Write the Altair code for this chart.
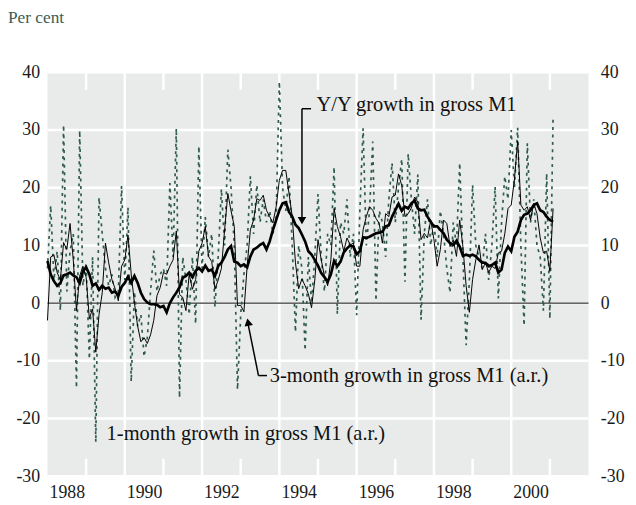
import altair as alt
import pandas as pd

# ---- data (monthly, starting Jan 1988) ----
one_month = [
    6, 16.9, 4, 9, -1.3, 30.9, 2, 9, 12, -14.7, 29.9, 3,
    7, -9.7, 8, -24.1, 18.3, 12, 6, 3, 5, 1, 2, 20.3,
    4, 16.6, -13.6, 2, -4, -2, -9.3, -6, 2, 9.1, 2, 5,
    6, 3, 20.8, 8, 30.3, -16.4, 8, 4, -2, 8, -3.6, 27.2,
    6, 14.9, 8, 12, -0.7, 8, 19.8, 10, 26.6, 20, 10, -15,
    -2, 5, 10, 22, 12, 20.5, 14, 18, 14, 16, 12, 15,
    38.4, 20, 16, 22, 10, -5, 10, 6, -8.2, 8, 0, 8,
    18.9, 8, 2, 12, 10, 23.6, -1.9, 14, 12, 18, 8, 12,
    -2.1, 16, 30.3, 10, 16, 28, 0.4, 16, 14, 8, 18, 24.3,
    14, 20, 25, 3.7, 25.9, 18, 12, 22.3, -2.9, 12, 18, 10,
    14, 8, 16, 12, 6, 1.8, 14, 10, 24.3, 8, -7.3, 4,
    20.5, 10, 8, 6, 12, 4, 10, 20.2, 0.8, 14, 22, 18,
    30, 20, 30.4, 10, -3.9, 27.7, 14, 18, 10, 8, -1.3, 22.5,
    -2.7, 32.3,
]

three_month = [
    -3.0, 8.0, 8.4, 5.3, 4.0, 10.5, 9.3, 13.8, 7.5, -1.3, 4.7, 6.4,
    4.5, -2.7, -1.0, -8.5, -2.0, 1.8, 10.4, 7.0, 4.1, 2.5, 0.4, 6.4,
    7.5, 11.8, 5.0, 0.0, -4.0, -6.7, -6.0, -7.0, -5.5, -3.0, 1.3, 2.7,
    5.3, 5.0, 6.4, 7.5, 12.5, 1.5, 1.0, -1.3, 5.0, 2.4, 4.1, 9.0,
    10.4, 13.3, 8.1, 7.2, 2.4, 4.0, 6.0, 12.7, 19.0, 16.0, 13.3, -0.4,
    -0.4, -1.5, 6.4, 12.7, 14.4, 18.1, 17.8, 18.7, 16.1, 15.0, 13.9, 16.7,
    21.3, 23.0, 23.0, 19.0, 15.0, 7.0, 2.5, 4.2, 3.0, 1.6, -0.8, 4.0,
    11.0, 7.5, 4.7, 3.0, 7.5, 16.4, 13.3, 11.5, 9.0, 11.3, 10.1, 10.4,
    6.4, 6.4, 12.7, 15.0, 16.7, 16.1, 14.7, 13.8, 10.4, 15.5, 15.0, 18.4,
    18.7, 22.4, 20.4, 15.0, 15.5, 16.5, 18.4, 17.5, 11.0, 12.1, 11.3, 14.4,
    11.0, 6.4, 9.3, 14.4, 13.8, 9.8, 11.0, 8.1, 14.4, 9.8, 3.0, -1.6,
    4.1, 7.5, 10.1, 5.8, 7.0, 5.3, 6.4, 6.0, 8.7, 9.0, 12.0, 16.4,
    17.0, 21.5, 28.1, 17.0, 16.1, 16.7, 14.4, 17.3, 15.5, 11.3, 8.7, 9.0,
    5.5, 16.4,
]

year_on_year = [
    7.3, 5.0, 3.8, 3.0, 3.5, 4.8, 5.0, 5.3, 4.8, 4.5, 3.5, 5.5,
    6.2, 5.0, 3.0, 3.4, 2.3, 3.0, 2.5, 2.7, 1.8, 2.0, 1.3, 2.8,
    3.5, 4.6, 3.5, 4.7, 3.5, 1.8, 0.7, 0.1, -0.2, -0.2, -0.3, -0.7,
    -0.5, -1.6, 0.0, 1.0, 1.8, 2.7, 4.4, 4.7, 5.3, 4.5, 5.6, 6.1,
    5.5, 6.5, 5.6, 5.8, 4.7, 6.4, 7.0, 8.0, 9.3, 9.9, 7.2, 7.0,
    6.4, 6.7, 6.2, 8.1, 9.3, 9.6, 10.1, 10.4, 9.3, 10.7, 12.7, 14.4,
    16.1, 17.3, 17.5, 15.8, 15.0, 13.6, 13.0, 11.9, 10.7, 9.0, 8.4, 7.5,
    6.5, 5.2, 4.5, 3.7, 5.0, 7.3, 6.4, 7.2, 8.8, 9.5, 10.0, 9.8,
    8.5, 9.0, 11.4, 11.3, 11.5, 11.8, 12.1, 12.2, 12.4, 13.3, 13.5, 15.0,
    16.1, 17.2, 16.0, 16.7, 16.4, 17.3, 17.8, 16.4, 16.1, 16.2, 15.0, 14.1,
    13.3, 13.3, 12.7, 12.1, 11.0, 10.4, 10.1, 10.8, 9.8, 8.2, 8.4, 8.2,
    8.4, 8.1, 7.5, 7.0, 7.0, 6.4, 6.6, 7.0, 5.3, 5.8, 8.7, 9.8,
    9.0, 11.5, 12.4, 14.4, 15.3, 15.5, 16.1, 17.0, 17.3, 16.1, 15.8, 15.0,
    14.4, 14.1,
]

label_years = [1988, 1990, 1992, 1994, 1996, 1998, 2000]
grid_years = [1990, 1992, 1994, 1996, 1998, 2000]
minor_years = [1989, 1991, 1993, 1995, 1997, 1999, 2001]
y_ticks = [-30, -20, -10, 0, 10, 20, 30, 40]
zero = [0]

labels = ["Y/Y growth in gross M1",
          "3-month growth in gross M1 (a.r.)",
          "1-month growth in gross M1 (a.r.)"]

# ---- tables ----
n = len(year_on_year)
df = pd.DataFrame({
    "t": [1988 + i / 12 for i in range(n)],
    "one": one_month,
    "three": three_month,
    "yoy": year_on_year,
})

FONT = "Liberation Serif"
GREEN = "#2e5b50"
BG = "#e8ebe9"
TICK_SIZE = 18

xscale = alt.Scale(domain=[1988, 2002], nice=False, zero=False)
yscale = alt.Scale(domain=[-30, 40], nice=False, zero=False)

xaxis = alt.Axis(values=[y + 0.5 for y in label_years], labelExpr="floor(datum.value)",
                 ticks=False, domain=False, grid=False, title=None,
                 labelFont=FONT, labelFontSize=TICK_SIZE, labelColor="#1a1a1a", labelPadding=8)
yaxis_left = alt.Axis(values=y_ticks, labelExpr="datum.value + ''", orient="left",
                      ticks=False, domain=False, grid=False, title=None, labelFont=FONT,
                      labelFontSize=TICK_SIZE, labelColor="#1a1a1a", labelPadding=8)
yaxis_right = alt.Axis(values=y_ticks, labelExpr="datum.value + ''", orient="right",
                       ticks=False, domain=False, grid=False, title=None, labelFont=FONT,
                       labelFontSize=TICK_SIZE, labelColor="#1a1a1a", labelPadding=12)


def X(field):
    return alt.X(field, type="quantitative", scale=xscale, axis=xaxis)


def Y(field, axis=None):
    return alt.Y(field, type="quantitative", scale=yscale, axis=axis)


# plot-area background drawn through the scales (full domain)
bg = alt.Chart(pd.DataFrame({"bx": [1988], "bx2": [2002], "by": [-30], "by2": [40]})).mark_rect(
    color=BG, opacity=1).encode(x=X("bx"), x2="bx2:Q", y=Y("by"), y2="by2:Q")

grid_y = alt.Chart(pd.DataFrame({"gy": y_ticks})).mark_rule(
    color="white", strokeWidth=2.5).encode(y=Y("gy"))

grid_x = alt.Chart(pd.DataFrame({"yr": grid_years})).mark_rule(
    color="white", strokeWidth=2.5).encode(x=X("yr"))

minor_df = pd.DataFrame({"yr": minor_years})
ticks_top = alt.Chart(minor_df).mark_rule(color="white", strokeWidth=2.5).encode(
    x=X("yr"), y=alt.YDatum(40, scale=yscale, axis=None), y2=alt.Y2Datum(37))
ticks_bot = alt.Chart(minor_df).mark_rule(color="white", strokeWidth=2.5).encode(
    x=X("yr"), y=alt.YDatum(-30, scale=yscale, axis=None), y2=alt.Y2Datum(-27))

zero_line = alt.Chart(pd.DataFrame({"v": zero})).mark_rule(
    color="black", strokeWidth=1).encode(y=Y("v"))

base = alt.Chart(df)
one_layer = base.mark_line(color=GREEN, strokeWidth=1.7, strokeDash=[3, 4.5]).encode(
    x=X("t"), y=Y("one", yaxis_left))
three_layer = base.mark_line(color="black", strokeWidth=1).encode(
    x=X("t"), y=Y("three", yaxis_right))
yoy_layer = base.mark_line(color="black", strokeWidth=2.7).encode(
    x=X("t"), y=Y("yoy"))

ann = pd.DataFrame({"ax": [1994.96, 1993.75, 1989.53], "ay": [34.4, -12.7, -22.7], "label": labels})
ann_text = alt.Chart(ann).mark_text(align="left", baseline="middle", font=FONT,
                                    fontSize=20.7, color="#111111").encode(
    x=X("ax"), y=Y("ay"), text="label:N")

seg = pd.DataFrame({
    "sx": [1994.585, 1994.585, 1993.46, 1993.46],
    "sy": [33.7, 33.7, -12.56, -12.56],
    "sx2": [1994.585, 1994.82, 1993.19, 1993.68],
    "sy2": [14.8, 33.7, -3.6, -12.56],
})
segments = alt.Chart(seg).mark_rule(color="black", strokeWidth=1.5).encode(
    x=X("sx"), y=Y("sy"), x2="sx2:Q", y2="sy2:Q")

head1 = alt.Chart(pd.DataFrame({"hx": [1994.585], "hy": [14.3]})).mark_point(
    shape="triangle-down", filled=True, size=75, color="black", opacity=1).encode(
    x=X("hx"), y=Y("hy"))
head2 = alt.Chart(pd.DataFrame({"hx": [1993.19], "hy": [-3.3]})).mark_point(
    shape="triangle-up", filled=True, size=75, color="black", opacity=1, angle=349).encode(
    x=X("hx"), y=Y("hy"))

chart = alt.layer(
    bg, grid_y, grid_x, ticks_top, ticks_bot, zero_line, one_layer, three_layer, yoy_layer,
    segments, head1, head2, ann_text,
).resolve_axis(y="independent").properties(
    width=548, height=409,
    autosize=alt.AutoSizeParams(type="none"),
    padding={"left": 40, "top": 62, "right": 40, "bottom": 26},
    title=alt.Title("Per cent", anchor="start", frame="group", dx=-40, offset=38,
                    font=FONT, fontSize=17.5, fontWeight="normal", color="#3b5e55"),
).configure_view(stroke=None).configure_axis(labelFont=FONT, labelFontSize=TICK_SIZE)

chart.save("out.html", embed_options={"renderer": "svg", "actions": False})
